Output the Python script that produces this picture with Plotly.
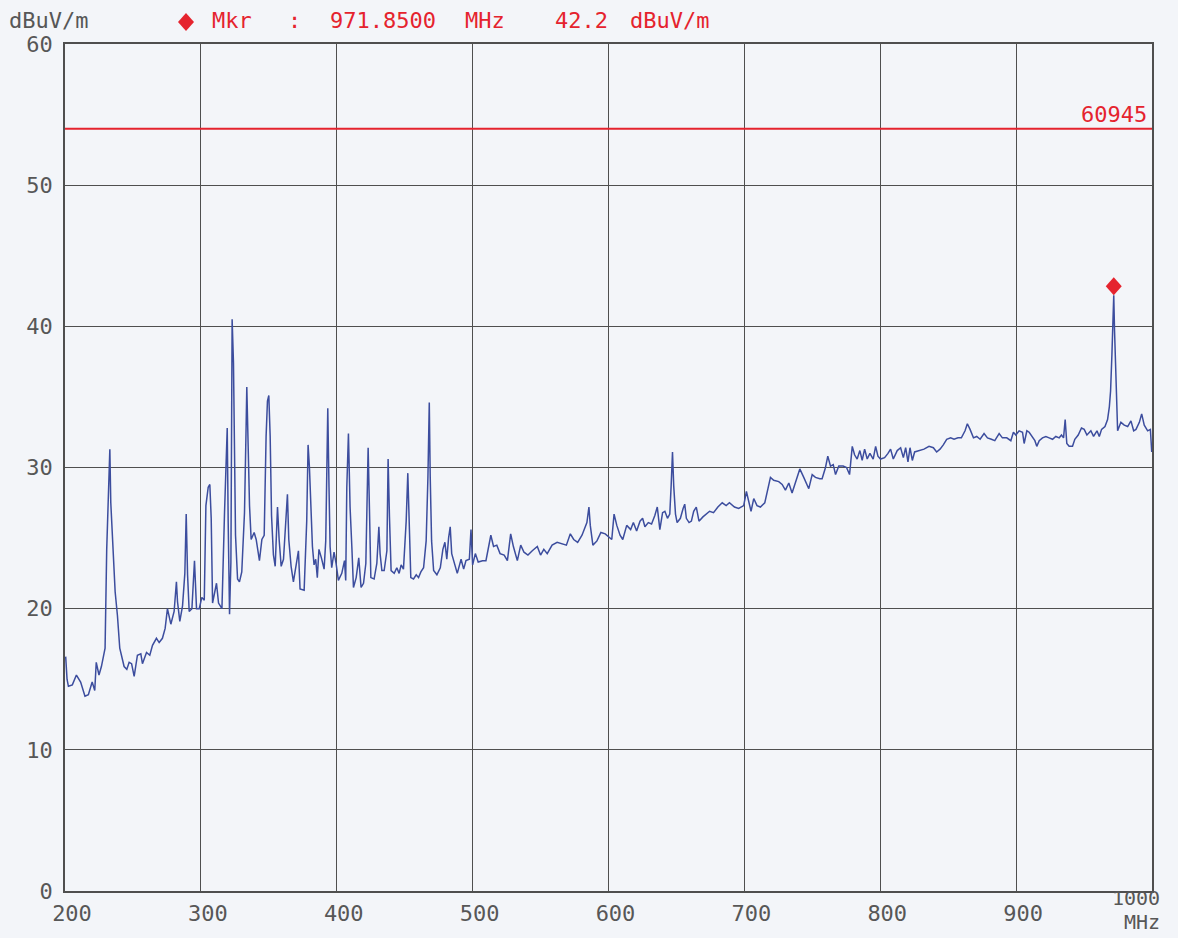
import plotly.graph_objects as go

# Spectrum sweep: frequency (MHz) and measured level (dBuV/m)
freq_mhz = [
    200.5, 201.5, 202.5, 205.4, 208.4, 211.5, 214.7, 217.2, 220.0, 221.9,
    223.0, 225.0, 226.8, 229.5, 230.7, 231.7, 233.0, 233.7, 234.9, 236.9,
    238.6, 240.3, 243.5, 245.5, 247.2, 249.0, 250.9, 253.3, 255.8, 257.0,
    260.0, 262.4, 264.4, 267.3, 269.3, 271.7, 273.7, 275.4, 277.9, 280.3,
    282.0, 282.8, 284.5, 286.5, 288.2, 289.2, 290.2, 291.4, 293.4, 294.6,
    295.3, 296.8, 298.8, 300.7, 302.5, 303.7, 305.4, 306.6, 307.6, 308.6,
    310.3, 311.5, 313.0, 315.5, 317.4, 318.6, 319.4, 320.1, 321.1, 322.1,
    323.0, 324.0, 324.8, 325.5, 327.0, 328.4, 330.1, 332.1, 333.3, 333.8,
    334.8, 335.8, 337.0, 339.2, 340.7, 343.1, 344.9, 346.6, 348.0, 349.0,
    350.0, 351.0, 352.0, 353.4, 354.7, 356.4, 357.6, 359.1, 360.8, 362.7,
    363.7, 364.7, 366.4, 368.1, 369.6, 371.8, 373.0, 376.0, 377.9, 378.9,
    379.9, 380.8, 382.1, 383.3, 384.5, 385.7, 386.9, 388.7, 390.7, 391.9,
    392.6, 393.4, 394.3, 395.1, 396.3, 398.0, 399.5, 401.2, 403.7, 405.7,
    406.6, 407.4, 408.6, 409.8, 411.1, 412.3, 414.3, 416.2, 417.9, 419.7,
    421.4, 422.1, 423.1, 424.1, 425.1, 427.5, 429.5, 431.0, 431.9, 433.2,
    434.9, 436.9, 437.8, 438.8, 440.0, 442.3, 444.2, 445.9, 447.4, 449.1,
    451.1, 452.3, 453.3, 454.5, 456.5, 458.5, 460.2, 461.9, 463.9, 465.8,
    467.1, 468.1, 468.8, 469.8, 471.3, 473.7, 476.2, 478.1, 479.6, 481.0,
    482.3, 483.5, 484.6, 486.5, 488.7, 491.5, 493.4, 495.1, 497.6, 498.8,
    500.0, 502.0, 504.1, 507.3, 509.8, 513.4, 515.4, 517.8, 520.2, 523.2,
    525.6, 528.0, 530.0, 532.9, 535.4, 537.8, 540.7, 543.9, 547.6, 550.0,
    552.4, 554.9, 558.5, 562.2, 565.9, 569.0, 571.9, 574.4, 577.3, 580.5,
    584.1, 585.6, 586.6, 588.5, 591.5, 594.4, 597.6, 600.0, 602.4, 604.1,
    606.1, 608.5, 610.5, 613.4, 616.3, 618.3, 620.7, 623.2, 625.1, 626.8,
    629.3, 631.7, 634.1, 635.9, 637.8, 639.8, 641.5, 643.4, 645.1, 646.1,
    647.1, 648.0, 649.3, 650.5, 652.9, 654.9, 656.1, 657.3, 659.3, 661.0,
    662.7, 664.6, 666.6, 669.5, 672.0, 674.4, 677.3, 680.5, 683.7, 686.6,
    689.0, 692.7, 695.8, 699.5, 701.5, 703.2, 704.9, 706.9, 709.3, 711.8,
    715.0, 719.2, 721.6, 725.3, 727.8, 730.2, 732.7, 735.1, 737.6, 740.8,
    743.7, 747.4, 749.9, 752.3, 755.5, 757.2, 759.7, 761.4, 763.4, 765.4,
    767.1, 769.5, 772.7, 775.2, 777.4, 779.4, 781.1, 783.0, 785.0, 786.7,
    788.5, 790.4, 792.4, 794.8, 796.6, 798.3, 800.2, 803.2, 805.7, 807.6,
    809.6, 812.5, 815.0, 817.0, 818.7, 820.4, 821.9, 823.6, 825.3, 828.5,
    832.2, 835.9, 839.1, 841.5, 844.0, 846.4, 848.9, 851.8, 854.3, 857.2,
    859.7, 862.4, 864.1, 866.1, 868.6, 871.0, 873.5, 876.4, 878.9, 881.8,
    884.3, 887.5, 889.9, 893.1, 896.1, 898.0, 899.8, 902.2, 904.7, 905.9,
    907.9, 909.6, 912.0, 913.8, 915.2, 917.0, 919.4, 921.9, 924.3, 926.8,
    929.2, 931.7, 933.4, 934.9, 936.1, 937.3, 939.0, 941.5, 943.2, 945.7,
    948.1, 950.1, 952.1, 955.0, 957.0, 959.5, 961.2, 962.9, 965.4, 967.3,
    968.6, 969.5, 970.5, 971.3, 971.85, 972.4, 973.0, 973.8, 974.7, 977.1,
    979.6, 982.1, 984.5, 986.5, 988.2, 990.7, 992.4, 994.3, 996.8, 998.8,
    999.8,
]
level_dbuv = [
    16.6, 15.0, 14.5, 14.6, 15.3, 14.8, 13.8, 13.9, 14.8, 14.2,
    16.2, 15.3, 15.9, 17.2, 24.2, 27.8, 31.3, 27.5, 24.7, 21.2,
    19.5, 17.2, 15.9, 15.7, 16.2, 16.1, 15.2, 16.7, 16.8, 16.1,
    16.9, 16.7, 17.4, 17.9, 17.6, 17.9, 18.6, 20.0, 18.9, 19.8,
    21.9, 20.5, 19.1, 20.2, 22.5, 26.7, 22.4, 19.8, 20.0, 22.6,
    23.4, 20.0, 20.0, 20.8, 20.6, 27.3, 28.6, 28.8, 26.4, 20.4,
    21.4, 21.8, 20.4, 20.0, 26.8, 30.8, 32.8, 26.1, 19.6, 23.3,
    40.5, 37.4, 31.3, 25.2, 22.1, 21.9, 22.6, 26.8, 32.9, 35.7,
    31.5, 27.3, 24.9, 25.4, 24.9, 23.4, 24.9, 25.2, 32.2, 34.7,
    35.1, 32.2, 26.6, 23.8, 23.0, 27.2, 24.9, 23.0, 23.5, 26.8,
    28.1, 24.9, 23.0, 21.9, 22.8, 24.1, 21.4, 21.3, 26.2, 31.6,
    30.0, 27.4, 24.4, 23.1, 23.5, 22.2, 24.2, 23.6, 22.8, 24.8,
    28.4, 34.2, 28.6, 24.4, 22.9, 24.0, 23.2, 22.0, 22.5, 23.4,
    22.0, 28.6, 32.4, 27.2, 24.4, 21.5, 22.2, 23.6, 21.5, 21.8,
    23.2, 26.5, 31.4, 26.9, 22.2, 22.1, 23.2, 25.8, 23.9, 22.7,
    22.7, 24.1, 30.6, 26.5, 22.7, 22.5, 22.9, 22.5, 23.1, 22.8,
    26.2, 29.6, 26.5, 22.2, 22.1, 22.4, 22.2, 22.6, 22.9, 24.8,
    29.3, 34.6, 29.3, 24.8, 22.7, 22.4, 22.9, 24.2, 24.7, 23.5,
    25.0, 25.8, 23.9, 23.2, 22.5, 23.5, 22.8, 23.4, 23.5, 25.6,
    23.1, 23.9, 23.3, 23.4, 23.4, 25.2, 24.4, 24.5, 23.9, 23.8,
    23.4, 25.3, 24.4, 23.4, 24.5, 24.0, 23.8, 24.1, 24.4, 23.8,
    24.2, 23.9, 24.5, 24.7, 24.6, 24.5, 25.3, 24.9, 24.7, 25.2,
    26.1, 27.2, 25.9, 24.5, 24.8, 25.4, 25.3, 25.1, 24.9, 26.7,
    25.9, 25.2, 24.9, 25.9, 25.6, 26.1, 25.5, 26.2, 26.4, 25.8,
    26.1, 26.0, 26.6, 27.2, 25.6, 26.8, 26.9, 26.4, 26.7, 28.7,
    31.1, 28.7, 26.7, 26.1, 26.4, 27.1, 27.4, 26.4, 26.1, 26.2,
    26.9, 27.2, 26.2, 26.5, 26.7, 26.9, 26.8, 27.2, 27.5, 27.3,
    27.5, 27.2, 27.1, 27.3, 28.3, 27.5, 26.9, 27.8, 27.3, 27.2,
    27.5, 29.3, 29.1, 29.0, 28.8, 28.4, 28.9, 28.2, 29.0, 29.9,
    29.3, 28.5, 29.5, 29.3, 29.2, 29.2, 30.0, 30.8, 30.1, 30.2,
    29.5, 30.1, 30.1, 30.0, 29.5, 31.5, 30.9, 30.6, 31.2, 30.5,
    31.3, 30.6, 31.0, 30.6, 31.5, 30.8, 30.6, 30.7, 31.0, 31.3,
    30.6, 31.2, 31.4, 30.7, 31.4, 30.4, 31.4, 30.5, 31.1, 31.2,
    31.3, 31.5, 31.4, 31.1, 31.3, 31.6, 32.0, 32.1, 32.0, 32.1,
    32.1, 32.6, 33.1, 32.7, 32.1, 32.2, 32.0, 32.4, 32.1, 32.0,
    31.9, 32.4, 32.1, 32.1, 31.9, 32.5, 32.3, 32.6, 32.5, 31.7,
    32.6, 32.5, 32.2, 31.9, 31.5, 31.9, 32.1, 32.2, 32.1, 32.0,
    32.2, 32.1, 32.3, 32.1, 33.4, 31.7, 31.5, 31.5, 32.0, 32.3,
    32.8, 32.7, 32.3, 32.6, 32.2, 32.6, 32.2, 32.7, 32.9, 33.4,
    34.3, 35.4, 38.0, 40.6, 42.2, 39.8, 38.0, 35.0, 32.6, 33.2,
    33.0, 32.9, 33.3, 32.6, 32.7, 33.2, 33.8, 33.0, 32.6, 32.7,
    31.1,
]

# Limit line and marker readout
limit_dbuv = 54.0
limit_name = "60945"
marker_freq = 971.85
marker_level = 42.2

x_ticks = [200, 300, 400, 500, 600, 700, 800, 900]
y_ticks = [0, 10, 20, 30, 40, 50, 60]

FONT = "DejaVu Sans Mono"
BG = "#f3f5f9"
GRID = "#4f4f4f"
LABEL = "#575757"
RED = "#e5232e"
TRACE = "#3c4d9e"

fig = go.Figure()

fig.add_trace(go.Scatter(
    x=[200, 1000], y=[limit_dbuv, limit_dbuv], mode="lines",
    line=dict(color=RED, width=2), hoverinfo="skip",
))
fig.add_trace(go.Scatter(
    x=freq_mhz, y=level_dbuv, mode="lines",
    line=dict(color=TRACE, width=1.5),
))

axis_common = dict(
    showgrid=True, gridcolor=GRID, gridwidth=1.3,
    showline=True, mirror=True, linecolor=GRID, linewidth=1.5,
    zeroline=False, ticks="",
    tickfont=dict(family=FONT, size=22, color=LABEL),
)
fig.update_xaxes(range=[200, 1000], tickvals=x_ticks, ticklabelshift=7,
                 ticklabelstandoff=2, **axis_common)
fig.update_yaxes(range=[0, 60], tickvals=y_ticks, ticklabelstandoff=6,
                 **axis_common)

annotations = [
    dict(text="1000", x=1000, y=0, xref="x", yref="y",
         xanchor="right", yanchor="middle", xshift=10, yshift=-7,
         font=dict(family=FONT, size=20, color=LABEL), showarrow=False),
    dict(text="MHz", x=1000, y=0, xref="x", yref="y",
         xanchor="right", yanchor="middle", xshift=10, yshift=-31,
         font=dict(family=FONT, size=20, color=LABEL), showarrow=False),
    dict(text=limit_name, x=1000, y=limit_dbuv, xref="x", yref="y",
         xanchor="right", yanchor="bottom", xshift=-3, yshift=0,
         font=dict(family=FONT, size=22, color=RED), showarrow=False),
    dict(text="dBuV/m", x=0, y=1, xref="paper", yref="paper",
         xanchor="left", yanchor="middle", xshift=-58, yshift=24,
         font=dict(family=FONT, size=22, color=LABEL), showarrow=False),
]

# Marker readout pieces along the top edge (left pixel offsets from plot edge)
readout = [
    ("Mkr", 145), (":", 221), ("%.4f" % marker_freq, 263), ("MHz", 398),
    ("%.1f" % marker_level, 488), ("dBuV/m", 563),
]
for text, dx in readout:
    annotations.append(dict(
        text=text, x=0, y=1, xref="paper", yref="paper",
        xanchor="left", yanchor="middle", xshift=dx, yshift=24,
        font=dict(family=FONT, size=22, color=RED), showarrow=False))

fig.update_layout(
    width=1178, height=938,
    margin=dict(l=65, r=26, t=44, b=44),
    paper_bgcolor=BG, plot_bgcolor=BG,
    showlegend=False,
    annotations=annotations,
    shapes=[
        # diamond marker sitting on the trace peak
        dict(type="path", xref="x", yref="y",
             xsizemode="pixel", ysizemode="pixel",
             xanchor=marker_freq, yanchor=marker_level,
             path="M 0 0 L 8 9 L 0 18 L -8 9 Z",
             fillcolor=RED, line=dict(width=0)),
        # diamond symbol in the readout header
        dict(type="path", xref="paper", yref="paper",
             xsizemode="pixel", ysizemode="pixel",
             xanchor=0, yanchor=1,
             path="M 121 13 L 129 22 L 121 31 L 113 22 Z",
             fillcolor=RED, line=dict(width=0)),
    ],
)

fig.write_html("out.html")
